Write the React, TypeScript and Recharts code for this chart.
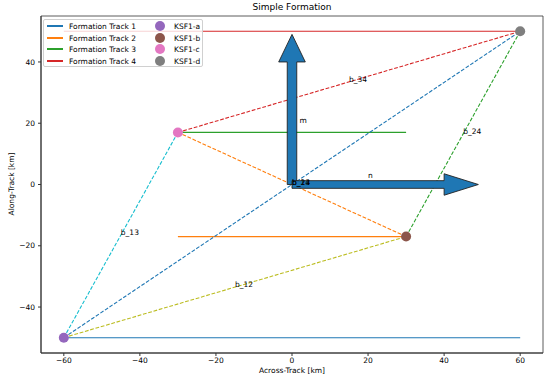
import React from "react";
import { ComposedChart, Line, Scatter, XAxis, YAxis, ReferenceArea } from "recharts";

const X_DOMAIN = [-66, 66];
const Y_DOMAIN = [-55, 55];
const X_TICKS = [-60, -40, -20, 0, 20, 40, 60];
const Y_TICKS = [-40, -20, 0, 20, 40];

// satellites
const KSF_NAMES = ["KSF1-a", "KSF1-b", "KSF1-c", "KSF1-d"];
const KSF_X = [-60, 30, -30, 60];
const KSF_Y = [-50, -17, 17, 50];
const KSF_COLORS = ["#9467bd", "#8c564b", "#e377c2", "#7f7f7f"];

// formation tracks (horizontal)
const TRACK_NAMES = ["Formation Track 1", "Formation Track 2", "Formation Track 3", "Formation Track 4"];
const TRACK_X0 = [-60, -30, -30, -60];
const TRACK_X1 = [60, 30, 30, 60];
const TRACK_Y = [-50, -17, 17, 50];
const TRACK_COLORS = ["#1f77b4", "#ff7f0e", "#2ca02c", "#d62728"];

// baselines between satellites (index into KSF arrays)
const BASE_NAMES = ["b_12", "b_13", "b_14", "b_23", "b_24", "b_34"];
const BASE_FROM = [0, 0, 0, 1, 1, 2];
const BASE_TO = [1, 2, 3, 2, 3, 3];
const BASE_COLORS = ["#bcbd22", "#17becf", "#1f77b4", "#ff7f0e", "#2ca02c", "#d62728"];

// m / n arrows from origin
const ARROW_NAMES = ["m", "n"];
const ARROW_DX = [0, 40];
const ARROW_DY = [40, 0];
const ARROW_LABEL_X = [2, 20];
const ARROW_LABEL_Y = [20, 2];
const ARROW_WIDTH = 2.5;
const HEAD_WIDTH = 7;
const HEAD_LENGTH = 9;

const FONT = "'DejaVu Sans', sans-serif";
const fmt = (v: number) => String(v).replace("-", "\u2212");

function arrowPoly(dx: number, dy: number) {
  const len = Math.hypot(dx, dy);
  const ux = dx / len, uy = dy / len;
  const px = -uy, py = ux;
  const hw = ARROW_WIDTH / 2, hh = HEAD_WIDTH / 2;
  const pts: [number, number][] = [
    [-px * hw, -py * hw],
    [dx - px * hw, dy - py * hw],
    [dx - px * hh, dy - py * hh],
    [ux * (len + HEAD_LENGTH), uy * (len + HEAD_LENGTH)],
    [dx + px * hh, dy + py * hh],
    [dx + px * hw, dy + py * hw],
    [px * hw, py * hw],
  ];
  return pts.map(([x, y]) => ({ x, y }));
}

const labelData = [
  ...BASE_NAMES.map((name, i) => ({
    x: (KSF_X[BASE_FROM[i]] + KSF_X[BASE_TO[i]]) / 2,
    y: (KSF_Y[BASE_FROM[i]] + KSF_Y[BASE_TO[i]]) / 2,
    name,
  })),
  ...ARROW_NAMES.map((name, i) => ({ x: ARROW_LABEL_X[i], y: ARROW_LABEL_Y[i], name })),
];

const pointData = KSF_NAMES.map((name, i) => ({ x: KSF_X[i], y: KSF_Y[i], name, color: KSF_COLORS[i] }));

export default function App() {
  return (
    <div style={{ position: "absolute", left: 0, top: 0, width: 555, height: 383, fontFamily: FONT, background: "#fff", color: "#000" }}>
      <ComposedChart width={555} height={383} margin={{ top: 16, right: 12, left: 0, bottom: 0 }}>
        <XAxis
          type="number"
          dataKey="x"
          domain={X_DOMAIN}
          ticks={X_TICKS}
          allowDataOverflow
          height={30}
          tickSize={3}
          tickMargin={2}
          tickFormatter={fmt}
          tick={{ fontSize: 7.5, fill: "#000", fontFamily: FONT }}
          stroke="#333"
          tickLine={{ stroke: "#333" }}
        />
        <YAxis
          type="number"
          dataKey="y"
          domain={Y_DOMAIN}
          ticks={Y_TICKS}
          allowDataOverflow
          width={41}
          tickSize={3}
          tickMargin={3}
          tickFormatter={fmt}
          tick={{ fontSize: 7.5, fill: "#000", fontFamily: FONT }}
          stroke="#333"
          tickLine={{ stroke: "#333" }}
        />
        <ReferenceArea x1={X_DOMAIN[0]} x2={X_DOMAIN[1]} y1={Y_DOMAIN[0]} y2={Y_DOMAIN[1]} fill="none" stroke="#333" strokeWidth={0.8} fillOpacity={0} />
        {TRACK_NAMES.map((name, i) => (
          <Line
            key={name}
            data={[{ x: TRACK_X0[i], y: TRACK_Y[i] }, { x: TRACK_X1[i], y: TRACK_Y[i] }]}
            dataKey="y"
            stroke={TRACK_COLORS[i]}
            strokeWidth={1.1}
            dot={false}
            isAnimationActive={false}
          />
        ))}
        {ARROW_NAMES.map((name, i) => (
          <Scatter
            key={"arrow-" + name}
            data={arrowPoly(ARROW_DX[i], ARROW_DY[i])}
            isAnimationActive={false}
            shape={() => <g />}
            line={(p: any) => (
              <polygon
                points={p.points.map((q: any) => `${q.x},${q.y}`).join(" ")}
                fill="#1f77b4"
                stroke="#222"
                strokeWidth={0.9}
              />
            )}
          />
        ))}
        {BASE_NAMES.map((name, i) => (
          <Line
            key={name}
            data={[
              { x: KSF_X[BASE_FROM[i]], y: KSF_Y[BASE_FROM[i]] },
              { x: KSF_X[BASE_TO[i]], y: KSF_Y[BASE_TO[i]] },
            ]}
            dataKey="y"
            stroke={BASE_COLORS[i]}
            strokeWidth={1.1}
            strokeDasharray="3.8 1.7"
            dot={false}
            isAnimationActive={false}
          />
        ))}
        <Scatter
          data={pointData}
          isAnimationActive={false}
          shape={(p: any) => <circle cx={p.cx} cy={p.cy} r={5} fill={p.payload.color} />}
        />
        <Scatter
          data={labelData}
          isAnimationActive={false}
          shape={(p: any) => (
            <text x={p.cx} y={p.cy} fontSize={7.5} fontFamily={FONT} fill="#000">
              {p.payload.name}
            </text>
          )}
        />
      </ComposedChart>
      <div style={{ position: "absolute", top: 2, left: 41, width: 502, textAlign: "center", fontSize: 9 }}>Simple Formation</div>
      <div style={{ position: "absolute", top: 366, left: 41, width: 502, textAlign: "center", fontSize: 7.5 }}>Across-Track [km]</div>
      <div
        style={{
          position: "absolute",
          left: 11,
          top: 184,
          fontSize: 7.5,
          whiteSpace: "nowrap",
          transform: "translate(-50%, -50%) rotate(-90deg)",
        }}
      >
        Along-Track [km]
      </div>
      <div
        style={{
          position: "absolute",
          left: 43,
          top: 19,
          width: 160,
          height: 48,
          background: "rgba(255,255,255,0.8)",
          border: "1px solid #d0d0d0",
          borderRadius: 2,
          fontSize: 7.5,
          boxSizing: "border-box",
        }}
      >
        {TRACK_NAMES.map((name, i) => (
          <div key={name} style={{ position: "absolute", left: 3, top: Math.round(i * 11.5), height: 12, display: "flex", alignItems: "center" }}>
            <span style={{ display: "inline-block", width: 16, height: 2, background: TRACK_COLORS[i], marginRight: 6 }} />
            <span>{name}</span>
          </div>
        ))}
        {KSF_NAMES.map((name, i) => (
          <div key={name} style={{ position: "absolute", left: 111, top: Math.round(i * 11.5), height: 12, display: "flex", alignItems: "center" }}>
            <span style={{ display: "inline-block", width: 10, height: 10, borderRadius: 5, background: KSF_COLORS[i], marginRight: 9 }} />
            <span>{name}</span>
          </div>
        ))}
      </div>
    </div>
  );
}
